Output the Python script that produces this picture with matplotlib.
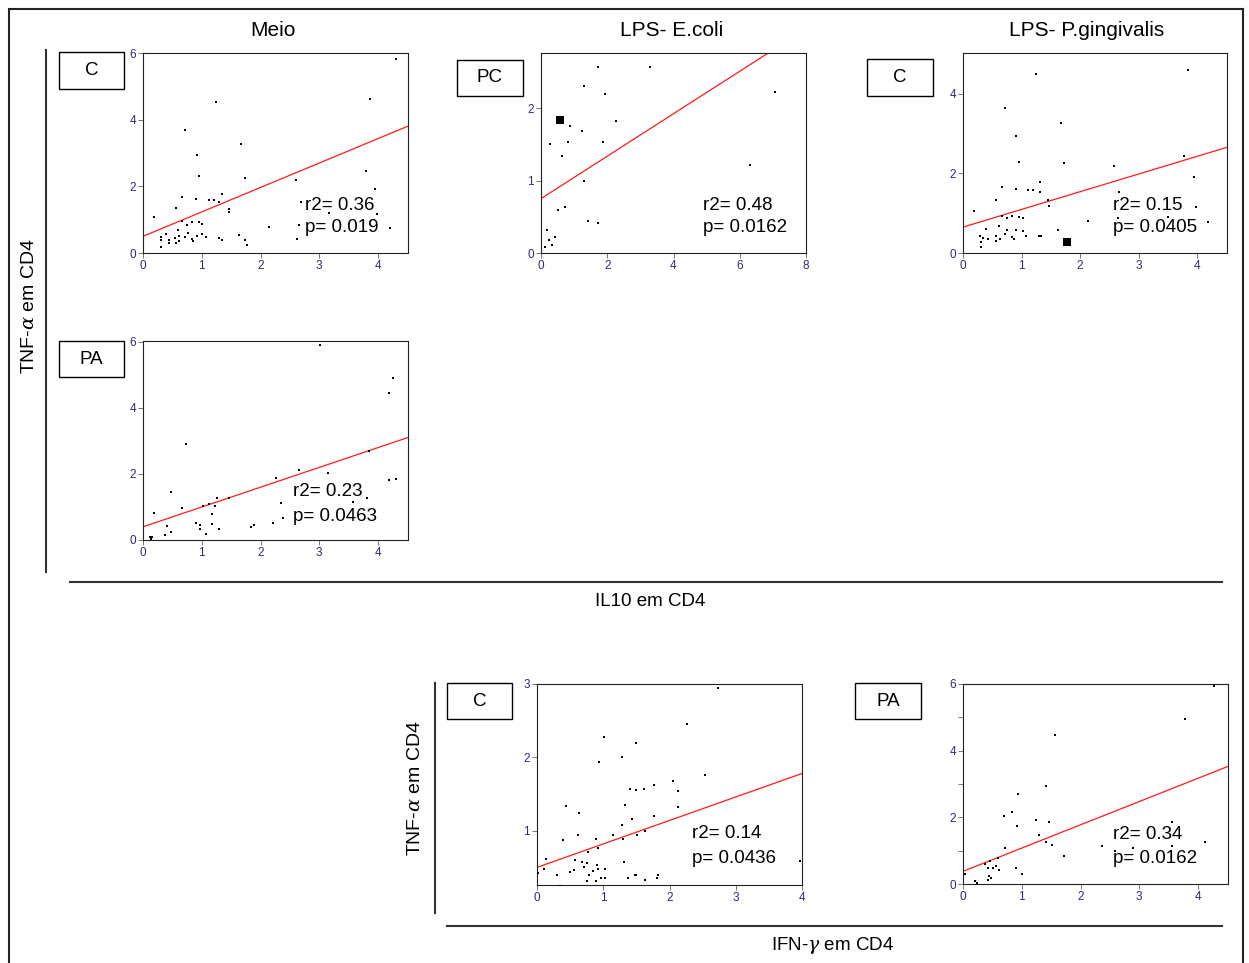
import matplotlib
matplotlib.use("Agg")
import matplotlib.pyplot as plt
from matplotlib.patches import Rectangle
from matplotlib.lines import Line2D

plt.rcParams['font.family'] = ['Liberation Sans', 'DejaVu Sans']
plt.rcParams['mathtext.fontset'] = 'custom'
plt.rcParams['mathtext.it'] = 'DejaVu Serif:italic'

# ---------------- data ----------------
col_titles = ["Meio", "LPS- E.coli", "LPS- P.gingivalis"]
xlabel_top = "IL10 em CD4"
xlabel_bottom = "IFN-$\\gamma$ em CD4"
ylabel = "TNF-$\\alpha$ em CD4"

# Panel 1: Meio, C
p1_x = [4.31, 3.86, 1.25, 0.71, 1.67, 0.92, 0.96, 1.73, 3.79, 2.60, 3.95, 0.66, 0.90, 1.12, 1.21,
        1.34, 1.30, 0.56, 1.46, 1.46, 2.69, 0.19, 3.99, 3.17, 0.66, 0.75, 0.83, 0.96, 1.01, 2.66,
        2.15, 4.21, 0.60, 0.31, 0.31, 0.39, 0.45, 0.44, 0.31, 0.55, 0.57, 0.62, 0.62, 0.72, 0.77,
        0.84, 0.85, 0.92, 1.01, 1.08, 1.29, 1.34, 1.64, 1.73, 1.77, 2.62]
p1_y = [5.81, 4.61, 4.52, 3.68, 3.28, 2.93, 2.30, 2.26, 2.47, 2.19, 1.93, 1.67, 1.61, 1.58, 1.58,
        1.77, 1.53, 1.35, 1.33, 1.24, 1.54, 1.07, 1.16, 1.19, 0.97, 0.85, 0.93, 0.93, 0.86, 0.85,
        0.79, 0.76, 0.69, 0.47, 0.40, 0.58, 0.40, 0.29, 0.18, 0.46, 0.30, 0.52, 0.36, 0.47, 0.59,
        0.43, 0.35, 0.52, 0.57, 0.47, 0.45, 0.39, 0.55, 0.40, 0.23, 0.41]

# Panel 2: LPS E.coli, PC
p2_x = [1.73, 3.28, 1.31, 1.92, 7.06, 2.25, 0.88, 1.24, 0.27, 0.80, 1.87, 0.64, 6.30, 1.31,
        0.73, 0.51, 1.41, 1.72, 0.17, 0.43, 0.25, 0.32, 0.12]
p2_y = [2.57, 2.57, 2.31, 2.19, 2.22, 1.82, 1.75, 1.69, 1.50, 1.53, 1.53, 1.34, 1.21, 0.99,
        0.64, 0.59, 0.44, 0.41, 0.32, 0.22, 0.18, 0.11, 0.08]
p2_big_x = [0.58]
p2_big_y = [1.84]

# Panel 3: LPS P.gingivalis, C
p3_x = [3.85, 1.24, 0.72, 1.68, 0.91, 0.96, 1.72, 2.58, 3.78, 3.95, 0.66, 0.90, 1.11, 1.20,
        1.32, 1.31, 2.67, 0.56, 1.46, 1.47, 0.19, 3.98, 3.50, 0.66, 0.75, 0.84, 0.96, 1.02,
        2.13, 2.65, 4.18, 0.61, 0.39, 1.63, 0.91, 0.76, 1.03, 0.29, 0.34, 0.31, 0.31, 0.43,
        0.56, 0.57, 0.63, 0.71, 0.83, 0.87, 1.07, 1.30, 1.33]
p3_y = [4.59, 4.50, 3.64, 3.26, 2.94, 2.28, 2.25, 2.18, 2.43, 1.90, 1.65, 1.60, 1.57, 1.57,
        1.77, 1.53, 1.53, 1.32, 1.32, 1.19, 1.06, 1.15, 0.91, 0.94, 0.87, 0.94, 0.91, 0.87,
        0.80, 0.87, 0.77, 0.68, 0.60, 0.57, 0.58, 0.58, 0.54, 0.43, 0.38, 0.28, 0.15, 0.35,
        0.43, 0.30, 0.35, 0.48, 0.39, 0.35, 0.42, 0.42, 0.42]
p3_big_x = [1.78]
p3_big_y = [0.28]

# Panel 4: Meio, PA
p4_x = [3.01, 4.26, 4.18, 0.73, 3.84, 2.66, 3.14, 2.26, 4.19, 4.31, 0.47, 1.47, 1.26, 3.81,
        2.35, 3.58, 0.66, 1.02, 1.12, 1.22, 0.18, 1.18, 2.38, 0.91, 0.97, 0.97, 1.17, 1.29,
        1.07, 2.21, 1.89, 1.84, 0.40, 0.47, 0.38, 0.12, 0.15, 0.14]
p4_y = [5.91, 4.92, 4.45, 2.92, 2.69, 2.12, 2.02, 1.89, 1.81, 1.84, 1.46, 1.27, 1.26, 1.26,
        1.11, 1.16, 0.98, 1.04, 1.09, 1.04, 0.82, 0.79, 0.68, 0.52, 0.44, 0.32, 0.48, 0.32,
        0.18, 0.53, 0.45, 0.38, 0.42, 0.25, 0.15, 0.09, 0.08, 0.03]

# Panel 5: IFN-g, C
p5_x = [2.73, 2.26, 1.01, 1.50, 1.28, 0.94, 2.53, 2.05, 1.76, 1.41, 1.49, 1.62, 2.13, 0.44,
        1.33, 2.13, 0.63, 1.76, 1.43, 1.28, 1.63, 0.39, 0.89, 1.30, 0.62, 1.15, 1.51, 0.92,
        0.77, 0.13, 0.11, 0.58, 0.68, 0.75, 1.32, 0.90, 0.71, 0.92, 1.03, 0.56, 0.50, 0.85,
        0.30, 0.79, 1.48, 1.50, 1.83, 0.96, 1.03, 1.37, 1.81, 1.63, 0.76, 0.89, 0.34, 3.97, 0.01]
p5_y = [2.95, 2.45, 2.28, 2.19, 2.01, 1.93, 1.76, 1.68, 1.62, 1.57, 1.55, 1.57, 1.54, 1.34,
        1.35, 1.33, 1.24, 1.20, 1.16, 1.08, 1.00, 0.88, 0.89, 0.89, 0.94, 0.94, 0.94, 0.77,
        0.71, 0.61, 0.48, 0.60, 0.58, 0.56, 0.57, 0.53, 0.50, 0.48, 0.48, 0.46, 0.44, 0.45,
        0.40, 0.40, 0.40, 0.40, 0.40, 0.36, 0.36, 0.35, 0.35, 0.33, 0.31, 0.31, 0.24, 0.59, 0.42]

# Panel 6: IFN-g, PA
p6_x = [4.28, 3.78, 1.57, 1.41, 0.93, 0.84, 0.70, 1.25, 1.46, 3.56, 0.92, 1.29, 1.42, 4.12,
        1.51, 2.36, 3.55, 2.89, 2.59, 0.72, 1.72, 0.59, 0.46, 0.37, 0.57, 0.43, 0.51, 0.90,
        0.61, 1.01, 0.03, 0.44, 0.48, 0.43, 0.20, 0.23]
p6_y = [5.95, 4.95, 4.47, 2.94, 2.71, 2.15, 2.03, 1.91, 1.87, 1.85, 1.74, 1.47, 1.27, 1.27,
        1.17, 1.14, 1.14, 1.07, 0.99, 1.09, 0.84, 0.79, 0.70, 0.61, 0.53, 0.47, 0.47, 0.47,
        0.42, 0.31, 0.31, 0.24, 0.19, 0.12, 0.10, 0.03]

# regression lines (intercept, slope)
fit_intercepts = [0.50, 0.75, 0.65, 0.40, 0.50, 0.38]
fit_slopes = [0.733, 0.293, 0.444, 0.600, 0.320, 0.698]
r2_texts = ["r2= 0.36", "r2= 0.48", "r2= 0.15", "r2= 0.23", "r2= 0.14", "r2= 0.34"]
p_texts = ["p= 0.019", "p= 0.0162", "p= 0.0405", "p= 0.0463", "p= 0.0436", "p= 0.0162"]
group_labels = ["C", "PC", "C", "PA", "C", "PA"]

# ---------------- layout (pixel boxes) ----------------
W, H = 1249, 963
fig = plt.figure(figsize=(W / 100, H / 100), dpi=100)


def fx(x):
    return x / W


def fy(y):
    return 1 - y / H


panels = [
    dict(box=(143, 53, 408, 253), x=p1_x, y=p1_y, xlim=(0, 4.51), ylim=(0, 6.0),
         xt=[0, 1, 2, 3, 4], yt=[0, 2, 4, 6], ytl=None, lab=(59, 52, 124, 89), tx=(0.61, 0.24, 0.125)),
    dict(box=(541, 53, 806, 253), x=p2_x, y=p2_y, xlim=(0, 8.0), ylim=(0, 2.76),
         xt=[0, 2, 4, 6, 8], yt=[0, 1, 2], ytl=None, lab=(457, 60, 523, 96), tx=(0.61, 0.24, 0.125),
         bx=p2_big_x, by=p2_big_y),
    dict(box=(963, 53, 1227, 253), x=p3_x, y=p3_y, xlim=(0, 4.51), ylim=(0, 5.02),
         xt=[0, 1, 2, 3, 4], yt=[0, 2, 4], ytl=None, lab=(867, 59, 933, 96), tx=(0.57, 0.24, 0.125),
         bx=p3_big_x, by=p3_big_y),
    dict(box=(143, 341, 408, 540), x=p4_x, y=p4_y, xlim=(0, 4.51), ylim=(0, 6.03),
         xt=[0, 1, 2, 3, 4], yt=[0, 2, 4, 6], ytl=None, lab=(59, 341, 124, 377), tx=(0.566, 0.246, 0.12)),
    dict(box=(537, 684, 802, 885), x=p5_x, y=p5_y, xlim=(0, 4.0), ylim=(0.26, 3.0),
         xt=[0, 1, 2, 3, 4], yt=[1, 2, 3], ytl=None, lab=(447, 683, 512, 719), tx=(0.585, 0.254, 0.134)),
    dict(box=(963, 684, 1228, 884), x=p6_x, y=p6_y, xlim=(0, 4.51), ylim=(0, 6.0),
         xt=[0, 1, 2, 3, 4], yt=[0, 1, 2, 3, 4, 5, 6], ytl=["0", "", "2", "", "4", "", "6"],
         lab=(855, 683, 921, 719), tx=(0.566, 0.25, 0.13)),
]

tick_col = "#2c2c6e"
for i, p in enumerate(panels):
    x0, y0, x1, y1 = p["box"]
    ax = fig.add_axes([fx(x0), fy(y1), fx(x1) - fx(x0), fy(y0) - fy(y1)])
    ax.scatter(p["x"], p["y"], s=4, marker="s", color="black", linewidths=0, zorder=3)
    if "bx" in p:
        ax.scatter(p["bx"], p["by"], s=36, marker="s", color="black", linewidths=0, zorder=3)
    xs = [p["xlim"][0], p["xlim"][1]]
    ys = [fit_intercepts[i] + fit_slopes[i] * v for v in xs]
    ax.plot(xs, ys, color="#ff1a1a", lw=0.9, zorder=2)
    ax.set_xlim(*p["xlim"])
    ax.set_ylim(*p["ylim"])
    ax.set_xticks(p["xt"])
    ax.set_yticks(p["yt"])
    if p["ytl"] is not None:
        ax.set_yticklabels(p["ytl"])
    ax.tick_params(direction="out", length=3.5, width=0.7, color="#777777",
                   labelsize=8.5, labelcolor=tick_col, pad=1.5)
    for s in ax.spines.values():
        s.set_linewidth(0.8)
        s.set_color("#222222")
    tx, ty1, ty2 = p["tx"]
    ax.text(tx, ty1, r2_texts[i], transform=ax.transAxes, fontsize=13.5, va="center", ha="left")
    ax.text(tx, ty2, p_texts[i], transform=ax.transAxes, fontsize=13.5, va="center", ha="left")

    # group label box
    lx0, ly0, lx1, ly1 = p["lab"]
    fig.patches.append(Rectangle((fx(lx0), fy(ly1)), fx(lx1) - fx(lx0), fy(ly0) - fy(ly1),
                                 transform=fig.transFigure, fill=False, lw=1.0, ec="black"))
    fig.text(fx((lx0 + lx1) / 2), fy((ly0 + ly1) / 2), group_labels[i], fontsize=13.5,
             ha="center", va="center")

# column titles
for t, xc in zip(col_titles, [273, 672, 1087]):
    fig.text(fx(xc), fy(31), t, fontsize=15, ha="center", va="center")

# guide lines
def fline(xa, ya, xb, yb, lw=1.5, color="#333333"):
    fig.lines.append(Line2D([fx(xa), fx(xb)], [fy(ya), fy(yb)], transform=fig.transFigure,
                            lw=lw, color=color))

fline(46, 50, 46, 572)
fline(70, 582, 1222, 582)
fline(435, 683, 435, 913)
fline(447, 926, 1222, 926)

# outer frame
fig.patches.append(Rectangle((fx(9), fy(975)), fx(1243) - fx(9), fy(9) - fy(975),
                             transform=fig.transFigure, fill=False, lw=1.5, ec="#222222"))

# axis labels
fig.text(fx(30), fy(306), ylabel, fontsize=14, rotation=90, ha="center", va="center")
fig.text(fx(416), fy(788), ylabel, fontsize=14, rotation=90, ha="center", va="center")
fig.text(fx(650), fy(602), xlabel_top, fontsize=13.5, ha="center", va="center")
fig.text(fx(833), fy(945), xlabel_bottom, fontsize=13.5, ha="center", va="center")

fig.savefig("out.png", dpi=100)
